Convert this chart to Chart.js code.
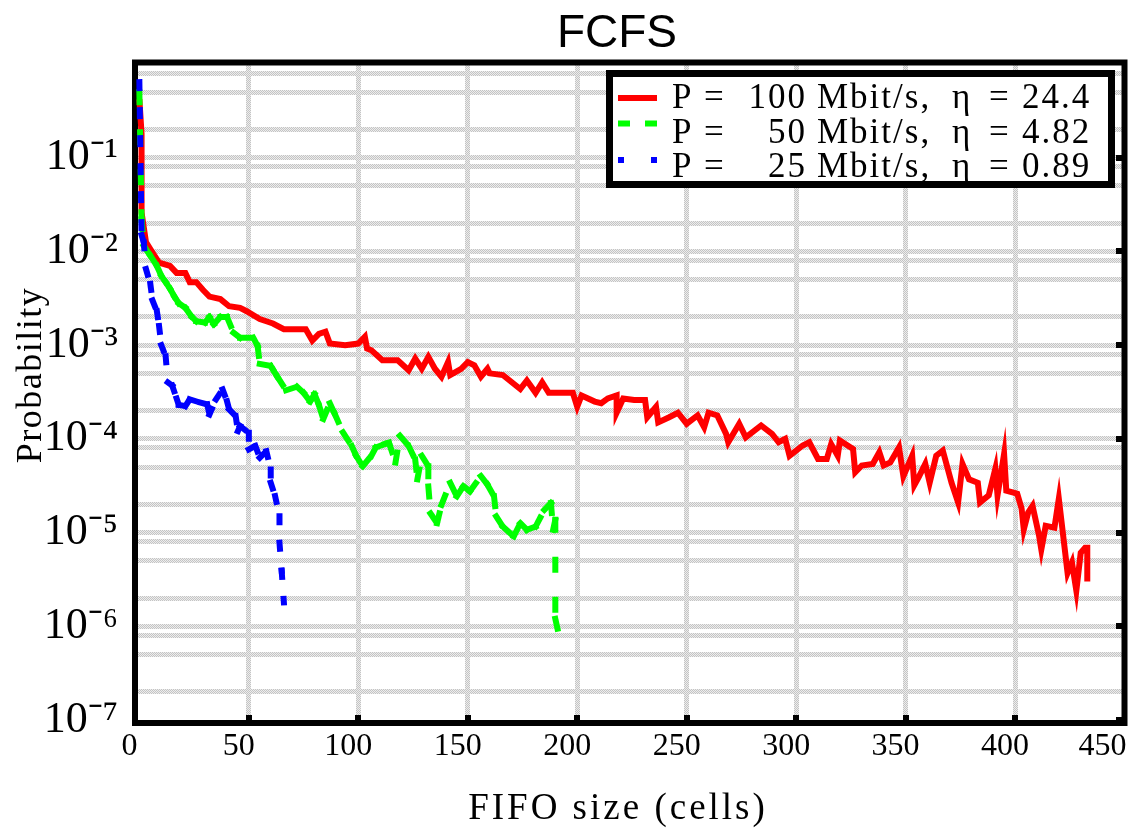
<!DOCTYPE html>
<html><head><meta charset="utf-8">
<script src="https://cdn.jsdelivr.net/npm/chart.js@4.4.0/dist/chart.umd.min.js"></script>
<style>html,body{margin:0;padding:0;background:#fff;}canvas{display:block;}</style>
</head><body>
<canvas id="c" width="1131" height="830"></canvas>
<script>
// ---------------- data ----------------
const chartTitle = 'FCFS';
const xAxisTitle = 'FIFO size (cells)';
const yAxisTitle = 'Probability';
const seriesPower = ['100', '50', '25'];
const seriesEta = ['24.4', '4.82', '0.89'];
const seriesColors = ['#ff0000', '#00ff00', '#0000ff'];

const xTickValues = [0, 50, 100, 150, 200, 250, 300, 350, 400, 450];
const xTickLabels = ['0', '50', '100', '150', '200', '250', '300', '350', '400', '450'];
const yTickValues = [1e-1, 1e-2, 1e-3, 1e-4, 1e-5, 1e-6, 1e-7];
const yTickLabels = ['10\u207B\u00B9', '10\u207B\u00B2', '10\u207B\u00B3', '10\u207B\u2074', '10\u207B\u2075', '10\u207B\u2076', '10\u207B\u2077'];
const yGridMantissas = [1, 2, 5, 8];

const redX = [
  0, 1, 1, 3, 6, 9, 14, 17, 21, 23,
  26, 29, 32, 37, 41, 46, 49, 55, 58, 61,
  66, 76, 79, 82, 85, 87, 94, 100, 103, 104,
  106, 111, 118, 123, 126, 129, 132, 135, 138, 141,
  142, 147, 150, 153, 156, 159, 160, 166, 174, 177,
  181, 184, 187, 193, 198, 200, 202, 208, 211, 214,
  218, 218, 221, 226, 231, 232, 236, 237, 242, 246,
  250, 255, 258, 260, 264, 268, 269, 274, 277, 284,
  289, 292, 295, 297, 303, 306, 310, 314, 316, 319,
  320, 326, 327, 330, 335, 338, 340, 343, 347, 349,
  353, 354, 356, 359, 361, 364, 367, 371, 374, 376,
  379, 383, 384, 388, 391, 392, 395, 396, 401, 403,
  404, 406, 408, 411, 412, 414, 418, 420, 424, 426,
  428, 430, 432, 433, 433];
const redY = [
  0.42, 0.18, 0.026, 0.0126, 0.0097, 0.0076, 0.0070, 0.0059, 0.0059, 0.0047,
  0.0047, 0.0039, 0.0033, 0.0031, 0.0026, 0.0025, 0.0023, 0.0019, 0.0018, 0.0017,
  0.00148, 0.00148, 0.00112, 0.00132, 0.00139, 0.00104, 0.00100, 0.00104, 0.00123, 0.00092,
  0.00088, 0.00069, 0.00069, 0.00054, 0.00072, 0.00056, 0.00075, 0.00056, 0.00046, 0.00066,
  0.00048, 0.00056, 0.00066, 0.00061, 0.00046, 0.00056, 0.00050, 0.00048, 0.00034, 0.00042,
  0.00031, 0.00040, 0.00031, 0.00031, 0.00031, 0.00022, 0.00029, 0.00025, 0.00024, 0.00027,
  0.00029, 0.00019, 0.00027, 0.00026, 0.00026, 0.00017, 0.00022, 0.00015, 0.00017, 0.00019,
  0.000145, 0.000178, 0.000133, 0.00019, 0.000178, 0.000113, 0.000092, 0.000145, 0.000104, 0.000139,
  0.000113, 0.000092, 0.000100, 0.000066, 0.000085, 0.000092, 0.000061, 0.000061, 0.000088, 0.000066,
  0.000096, 0.000078, 0.000044, 0.000052, 0.000054, 0.000072, 0.000052, 0.000056, 0.000081, 0.000040,
  0.000066, 0.000032, 0.000039, 0.000054, 0.000034, 0.000066, 0.000075, 0.000034, 0.000021, 0.000054,
  0.000037, 0.000034, 0.000021, 0.000025, 0.000048, 0.000025, 0.000069, 0.000028, 0.000026, 0.000018,
  0.0000108, 0.0000164, 0.0000193, 0.0000092, 0.0000066, 0.0000118, 0.0000113, 0.000023, 0.0000037, 0.0000048,
  0.0000024, 0.0000061, 0.0000069, 0.0000069, 0.0000030];

const greenX = [
  0, 1, 2, 5, 8, 10, 12, 14, 16, 18,
  21, 24, 26, 30, 32, 34, 37, 40, 43, 46,
  52, 54, 55, 60, 61, 63, 67, 72, 75, 78,
  80, 82, 84, 87, 89, 93, 97, 99, 102, 106,
  108, 112, 114, 117, 119, 123, 126, 127, 129, 132,
  132, 133, 136, 138, 142, 145, 148, 151, 156, 159,
  162, 163, 166, 171, 174, 177, 181, 185, 188, 189,
  190, 190, 193];
const greenY = [
  0.50, 0.022, 0.0115, 0.0090, 0.0070, 0.0055, 0.0047, 0.0040, 0.0033, 0.0028,
  0.0025, 0.0020, 0.0018, 0.00174, 0.0020, 0.00167, 0.0020, 0.0020, 0.00136, 0.0012,
  0.0012, 0.00098, 0.00063, 0.00060, 0.00055, 0.00046, 0.00033, 0.00036, 0.00031, 0.00025,
  0.00030, 0.00023, 0.000163, 0.00024, 0.00019, 0.000117, 0.000084, 0.000066, 0.000051, 0.000066,
  0.000081, 0.000088, 0.000091, 0.000056, 0.000108, 0.000084, 0.000060, 0.000037, 0.000066, 0.000051,
  0.000031, 0.000016, 0.0000126, 0.0000198, 0.0000339, 0.0000244, 0.0000312, 0.0000276, 0.0000400, 0.0000325,
  0.0000244, 0.0000149, 0.0000116, 0.0000091, 0.0000126, 0.0000107, 0.0000116, 0.0000175, 0.0000207, 0.0000107,
  0.0000137, 0.0000012, 0.00000058];

const blueX = [
  0, 1, 2, 3, 5, 6, 8, 9, 10, 12,
  13, 15, 17, 18, 21, 23, 28, 31, 32, 35,
  38, 40, 41, 44, 45, 46, 50, 50, 53, 55,
  58, 60, 60, 62, 64, 64, 65, 66];
const blueY = [
  0.64, 0.015, 0.0125, 0.0065, 0.0045, 0.0030, 0.0023, 0.0016, 0.0010, 0.00076,
  0.00040, 0.00037, 0.00027, 0.00023, 0.000224, 0.000264, 0.000243, 0.000233, 0.000182, 0.000264,
  0.000337, 0.000253, 0.000206, 0.000175, 0.000121, 0.000137, 0.000116, 0.000077, 0.000084, 0.000063,
  0.000074, 0.000047, 0.000034, 0.0000245, 0.0000149, 0.0000078, 0.0000039, 0.0000018];

// ---------------- helpers ----------------
const pts = (xs, ys) => xs.map((x, i) => ({ x: x, y: ys[i] }));
const yGridValues = [];
yTickValues.slice().reverse().forEach(d => yGridMantissas.forEach(m => yGridValues.push(m * d)));
yGridValues.push(1);

const canvas = document.getElementById('c');
const mainCtx = canvas.getContext('2d');
const pc = document.createElement('canvas');
pc.width = 2; pc.height = 2;
const pctx = pc.getContext('2d');
pctx.fillStyle = '#ededed'; pctx.fillRect(0, 0, 2, 2);
pctx.fillStyle = '#c4c4c4'; pctx.fillRect(0, 0, 1, 1); pctx.fillRect(1, 1, 1, 1);
const gridPattern = mainCtx.createPattern(pc, 'repeat');

const serif = '"Liberation Serif", "Times New Roman", serif';
const restartDash = { borderDashOffset: c => (c.p0DataIndex % 2) ? 0.01 : 0 };

// ---------------- plugins ----------------
const framePlugin = {
  id: 'frame',
  beforeDatasetsDraw(chart) {
    const { ctx, chartArea: a, scales: { x, y } } = chart;
    ctx.save();
    ctx.fillStyle = '#000';
    xTickValues.forEach(v => {
      if (v > 0 && v < 450) {
        const px = Math.round(x.getPixelForValue(v));
        ctx.fillRect(px - 3, a.bottom - 5, 6, 5);
      }
    });
    yTickValues.forEach(v => {
      const py = Math.round(y.getPixelForValue(v));
      ctx.fillRect(Math.round(a.right) - 9, py - 3, 6, 6);
    });
    ctx.lineWidth = 6;
    ctx.strokeStyle = '#000';
    ctx.strokeRect(a.left, a.top - 1.5, a.right - a.left, a.bottom - a.top + 4.5);
    ctx.restore();
  }
};

const textPlugin = {
  id: 'texts',
  afterDraw(chart) {
    const ctx = chart.ctx;
    ctx.save();
    ctx.fillStyle = '#000';
    ctx.textAlign = 'center';
    ctx.textBaseline = 'alphabetic';
    ctx.font = '46px "Liberation Sans", Arial, sans-serif';
    ctx.fillText(chartTitle, 617, 47);

    ctx.font = '37px ' + serif;
    if ('letterSpacing' in ctx) ctx.letterSpacing = '3px';
    ctx.fillText(xAxisTitle, 618, 819);

    ctx.save();
    ctx.translate(41, 375);
    ctx.rotate(-Math.PI / 2);
    if ('letterSpacing' in ctx) ctx.letterSpacing = '1.5px';
    ctx.font = '36px ' + serif;
    ctx.fillText(yAxisTitle, 0, 0);
    ctx.restore();

    // legend box
    ctx.fillStyle = '#fff';
    ctx.fillRect(610, 74, 501, 110);
    ctx.lineWidth = 7;
    ctx.strokeStyle = '#000';
    ctx.setLineDash([]);
    ctx.strokeRect(609.5, 73.5, 502, 111);

    const sampleY = [98, 123.5, 160];
    const dashes = [[], [12, 15], [6, 27]];
    const baseY = [108, 142.5, 176.5];
    chart.data.datasets.forEach((ds, i) => {
      ctx.save();
      ctx.strokeStyle = ds.borderColor;
      ctx.lineWidth = 6;
      ctx.lineCap = 'butt';
      ctx.setLineDash(dashes[i]);
      ctx.beginPath();
      ctx.moveTo(618, sampleY[i]);
      ctx.lineTo(657, sampleY[i]);
      ctx.stroke();
      ctx.restore();

      ctx.fillStyle = '#000';
      ctx.font = '35px ' + serif;
      if ('letterSpacing' in ctx) ctx.letterSpacing = '2px';
      ctx.textAlign = 'left';
      ctx.fillText('P', 672, baseY[i]);
      ctx.fillText('=', 704, baseY[i]);
      ctx.textAlign = 'right';
      ctx.fillText(seriesPower[i], 807, baseY[i]);
      ctx.textAlign = 'left';
      ctx.fillText('Mbit/s,', 817, baseY[i]);
      ctx.fillText('\u03B7', 952, baseY[i]);
      ctx.fillText('=', 989, baseY[i]);
      ctx.fillText(seriesEta[i], 1022, baseY[i]);
    });
    ctx.restore();
  }
};

// ---------------- chart ----------------
new Chart(mainCtx, {
  type: 'line',
  data: {
    datasets: [
      {
        label: 'P = ' + seriesPower[0] + ' Mbit/s, \u03B7 = ' + seriesEta[0],
        data: pts(redX, redY), borderColor: seriesColors[0], backgroundColor: seriesColors[0],
        borderWidth: 6, pointRadius: 0, pointHoverRadius: 0, tension: 0, fill: false,
        borderJoinStyle: 'miter', borderCapStyle: 'butt', order: 3
      },
      {
        label: 'P = ' + seriesPower[1] + ' Mbit/s, \u03B7 = ' + seriesEta[1],
        data: pts(greenX, greenY), borderColor: seriesColors[1], backgroundColor: seriesColors[1],
        borderWidth: 6, pointRadius: 0, pointHoverRadius: 0, tension: 0, fill: false,
        borderDash: [10, 30], borderCapStyle: 'square', borderJoinStyle: 'miter',
        segment: restartDash, order: 2
      },
      {
        label: 'P = ' + seriesPower[2] + ' Mbit/s, \u03B7 = ' + seriesEta[2],
        data: pts(blueX, blueY), borderColor: seriesColors[2], backgroundColor: seriesColors[2],
        borderWidth: 6, pointRadius: 0, pointHoverRadius: 0, tension: 0, fill: false,
        borderDash: [6, 22], borderCapStyle: 'square', borderJoinStyle: 'miter',
        segment: restartDash, order: 1
      }
    ]
  },
  options: {
    responsive: false,
    devicePixelRatio: 1,
    animation: false,
    events: [],
    layout: { padding: { top: 64, right: 6.5, bottom: 0, left: 0 } },
    plugins: {
      legend: { display: false },
      title: { display: false },
      tooltip: { enabled: false }
    },
    scales: {
      x: {
        type: 'linear', min: -2, max: 450,
        afterBuildTicks: s => { s.ticks = xTickValues.map(v => ({ value: v })); },
        afterFit: s => { s.height = 110; s.paddingLeft = 0; s.paddingRight = 0; },
        border: { display: false },
        grid: {
          color: c => (c.tick && (c.tick.value === 0 || c.tick.value === 450)) ? 'rgba(0,0,0,0)' : gridPattern,
          lineWidth: 5, drawTicks: false
        },
        ticks: {
          autoSkip: false, maxRotation: 0, padding: 7, labelOffset: -10,
          color: '#000', font: { family: serif, size: 32 },
          callback: v => {
            const k = xTickValues.indexOf(v);
            let s = k >= 0 ? xTickLabels[k] : '';
            if (v === 450) s += '\u2007 ';
            return s;
          }
        }
      },
      y: {
        type: 'logarithmic', min: 1e-7, max: 1,
        afterBuildTicks: s => { s.ticks = yGridValues.map(v => ({ value: v })); },
        afterFit: s => { s.width = 135; s.paddingTop = 0; s.paddingBottom = 0; },
        border: { display: false },
        grid: {
          color: c => (c.tick && (c.tick.value >= 0.999 || c.tick.value <= 1.001e-7)) ? 'rgba(0,0,0,0)' : gridPattern,
          lineWidth: 5, drawTicks: false
        },
        ticks: {
          autoSkip: false, padding: 17,
          color: '#000', font: { family: serif, size: 44 },
          callback: v => {
            const k = yTickValues.findIndex(t => Math.abs(Math.log10(t) - Math.log10(v)) < 1e-6);
            return k >= 0 ? yTickLabels[k] : '';
          }
        }
      }
    }
  },
  plugins: [framePlugin, textPlugin]
});
</script>
</body></html>
